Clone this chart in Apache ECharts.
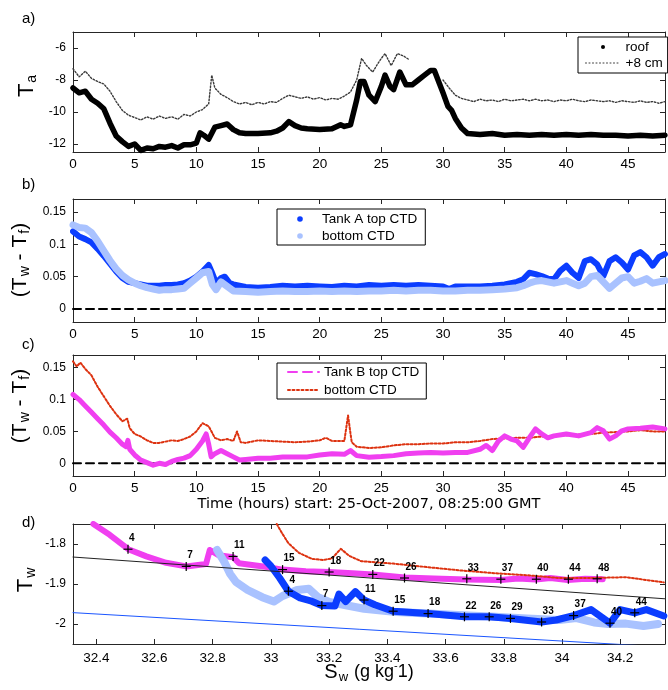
<!DOCTYPE html>
<html>
<head>
<meta charset="utf-8">
<script src="https://cdn.jsdelivr.net/npm/echarts@6/dist/echarts.min.js"></script>
<style>
  html, body { margin: 0; padding: 0; background: #fff; }
  #chart { width: 668px; height: 690px; }
</style>
</head>
<body>
<div id="chart"></div>
<script>
// ---- (a) air temperature, hours since start ----
const roofT = [[0,-8.5],[0.5,-8.8],[1,-8.7],[1.5,-9.2],[2,-9.45],[2.5,-9.8],[3,-10.7],[3.5,-11.5],[4,-11.85],[4.5,-12.15],
  [5,-12.0],[5.5,-12.4],[6,-12.25],[6.5,-12.3],[7,-12.15],[7.5,-12.2],[8,-12.1],[8.5,-12.25],[9,-12.05],[9.5,-12.05],
  [10,-11.95],[10.3,-11.3],[10.6,-11.45],[11,-11.7],[11.5,-10.95],[12,-10.85],[12.5,-10.75],[13,-11.1],[13.5,-11.3],[14,-11.35],
  [15,-11.35],[16,-11.3],[16.5,-11.2],[17,-11.0],[17.5,-10.6],[18,-10.85],[18.5,-11.0],[19,-11.05],[20,-11.1],[21,-11.05],
  [21.7,-10.8],[22,-10.9],[22.5,-10.8],[23,-9.25],[23.3,-8.1],[23.6,-8.1],[24,-8.95],[24.5,-9.35],[25,-8.4],[25.3,-7.7],
  [25.7,-8.4],[26,-8.6],[26.5,-7.5],[27,-8.3],[27.5,-8.3],[28,-8.0],[28.5,-7.7],[29,-7.4],[29.3,-7.4],[29.7,-8.2],
  [30,-8.8],[30.4,-9.65],[30.7,-9.9],[31,-10.4],[31.5,-11.0],[32,-11.35],[33,-11.4],[34,-11.35],[35,-11.45],[36,-11.4],
  [37,-11.45],[38,-11.4],[39,-11.45],[40,-11.4],[41,-11.45],[42,-11.4],[43,-11.45],[44,-11.45],[45,-11.5],[46,-11.45],
  [47,-11.5],[48,-11.45]];
const plus8cmT = [[0,-7.3],[0.5,-7.8],[1,-7.45],[1.5,-7.9],[2,-8.1],[2.5,-8.25],[3,-8.7],[3.5,-9.35],[4,-9.9],[4.5,-10.2],
  [5,-10.35],[5.5,-10.5],[6,-10.3],[6.5,-10.45],[7,-10.25],[7.5,-10.4],[8,-10.3],[8.5,-10.45],[9,-10.15],[9.5,-10.25],
  [10,-10.0],[10.5,-9.85],[11,-9.5],[11.25,-7.7],[11.5,-8.5],[12,-8.9],[12.5,-9.1],[13,-9.35],[13.5,-9.5],[14,-9.4],
  [14.5,-9.55],[15,-9.4],[15.5,-9.5],[16,-9.35],[16.5,-9.4],[17,-9.15],[17.5,-8.95],[18,-9.05],[18.5,-9.15],[19,-9.05],
  [19.5,-9.2],[20,-9.1],[20.5,-9.25],[21,-9.15],[21.5,-9.2],[22,-9.0],[22.5,-8.75],[23,-8.0],[23.4,-6.65],[23.8,-7.1],
  [24.3,-7.5],[24.7,-7.0],[25,-6.65],[25.3,-6.35],[25.8,-7.1],[26.3,-6.35],[26.8,-6.5],[27.3,-6.75],[27.4,null],
  [30,-8.0],[30.5,-8.5],[31,-8.95],[31.5,-9.15],[32,-9.25],[32.5,-9.35],[33,-9.2],[33.5,-9.3],[34,-9.25],[34.5,-9.35],
  [35,-9.2],[35.5,-9.3],[36,-9.25],[36.5,-9.2],[37,-9.3],[37.5,-9.2],[38,-9.3],[38.5,-9.25],[39,-9.35],[39.5,-9.25],
  [40,-9.3],[40.5,-9.2],[41,-9.3],[41.5,-9.35],[42,-9.25],[42.5,-9.3],[43,-9.35],[43.5,-9.3],[44,-9.4],[44.5,-9.3],
  [45,-9.35],[45.5,-9.4],[46,-9.3],[46.5,-9.4],[47,-9.35],[47.5,-9.45],[48,-9.35]];

// ---- (b) Tank A, water minus freezing temperature ----
const tankATop = [[0,0.12],[0.5,0.112],[1,0.108],[1.5,0.103],[2,0.093],[2.5,0.082],[3,0.07],[3.5,0.058],[4,0.048],[4.5,0.042],
  [5,0.04],[5.5,0.038],[6,0.036],[6.5,0.036],[7,0.036],[7.5,0.037],[8,0.037],[8.5,0.038],[9,0.04],[9.5,0.044],
  [10,0.05],[10.5,0.058],[11,0.068],[11.3,0.055],[11.6,0.04],[12,0.048],[12.3,0.05],[12.7,0.04],[13,0.038],[13.5,0.036],
  [14,0.034],[15,0.033],[16,0.034],[17,0.036],[18,0.035],[19,0.036],[20,0.035],[21,0.034],[22,0.036],[23,0.035],
  [24,0.037],[25,0.036],[26,0.037],[27,0.036],[28,0.037],[29,0.036],[30,0.035],[30.5,0.031],[31,0.035],[32,0.035],
  [33,0.035],[34,0.036],[35,0.038],[35.5,0.04],[36,0.042],[36.5,0.046],[37,0.056],[37.5,0.054],[38,0.051],[38.5,0.047],
  [39,0.046],[39.5,0.059],[40,0.067],[40.5,0.056],[41,0.048],[41.5,0.074],[42,0.077],[42.5,0.069],[43,0.051],[43.5,0.074],
  [44,0.08],[44.5,0.072],[45,0.061],[45.5,0.083],[46,0.088],[46.5,0.08],[47,0.067],[47.5,0.08],[48,0.085]];
const tankABottom = [[0,0.13],[0.5,0.126],[1,0.125],[1.5,0.118],[2,0.105],[2.5,0.09],[3,0.075],[3.5,0.062],[4,0.052],[4.5,0.045],
  [5,0.04],[5.5,0.036],[6,0.033],[6.5,0.031],[7,0.029],[7.5,0.03],[8,0.03],[8.5,0.031],[9,0.032],[9.5,0.04],
  [10,0.048],[10.5,0.056],[11,0.058],[11.3,0.038],[11.6,0.03],[12,0.042],[12.5,0.035],[13,0.028],[14,0.027],[15,0.026],
  [16,0.027],[17,0.028],[18,0.027],[19,0.027],[20,0.028],[21,0.027],[22,0.028],[23,0.027],[24,0.028],[25,0.028],
  [26,0.029],[27,0.028],[28,0.029],[29,0.029],[30,0.028],[31,0.028],[32,0.029],[33,0.029],[34,0.03],[35,0.031],
  [36,0.033],[36.5,0.036],[37,0.04],[37.5,0.043],[38,0.044],[38.5,0.042],[39,0.04],[39.5,0.042],[40,0.044],[40.5,0.04],
  [41,0.036],[41.5,0.04],[42,0.05],[42.5,0.052],[43,0.042],[43.5,0.032],[44,0.04],[44.5,0.048],[45,0.05],[45.5,0.04],
  [46,0.043],[46.5,0.047],[47,0.04],[47.5,0.042],[48,0.044]];

// ---- (c) Tank B ----
const tankBTop = [[0,0.108],[0.5,0.1],[1,0.09],[1.5,0.08],[2,0.07],[2.5,0.06],[3,0.049],[3.5,0.04],[4,0.03],[4.3,0.026],
  [4.45,0.036],[4.6,0.022],[5,0.013],[5.5,0.005],[6,0.001],[6.5,-0.003],[7,0.0],[7.5,-0.002],[8,0.003],[8.5,0.006],
  [9,0.008],[9.5,0.012],[10,0.022],[10.5,0.035],[10.8,0.046],[11,0.03],[11.2,0.01],[11.5,0.015],[12,0.02],[12.5,0.015],
  [13,0.01],[13.5,0.005],[14,0.006],[15,0.008],[16,0.008],[17,0.01],[18,0.01],[19,0.01],[20,0.013],[21,0.015],
  [22,0.014],[22.5,0.02],[23,0.012],[24,0.0095],[25,0.0105],[26,0.012],[27,0.015],[28,0.016],[29,0.017],[30,0.016],
  [31,0.017],[32,0.017],[33,0.022],[33.5,0.028],[34,0.02],[34.5,0.035],[35,0.043],[35.5,0.038],[36,0.035],[36.5,0.025],
  [37,0.04],[37.5,0.054],[38,0.046],[38.5,0.04],[39,0.043],[40,0.046],[41,0.043],[42,0.048],[42.5,0.056],[43,0.051],
  [43.5,0.038],[44,0.043],[44.5,0.051],[45,0.054],[46,0.055],[47,0.057],[48,0.054]];
const tankBBottom = [[0,0.16],[0.3,0.152],[0.6,0.158],[1,0.148],[1.5,0.138],[2,0.12],[2.5,0.105],[3,0.09],[3.5,0.077],[4,0.066],
  [4.4,0.07],[4.6,0.055],[5,0.046],[5.5,0.042],[6,0.036],[6.5,0.032],[7,0.032],[7.5,0.034],[8,0.036],[8.5,0.035],
  [9,0.038],[9.5,0.042],[10,0.05],[10.5,0.063],[11,0.058],[11.5,0.04],[12,0.036],[12.5,0.038],[13,0.035],[13.3,0.05],
  [13.6,0.033],[14,0.032],[15,0.036],[16,0.035],[17,0.034],[18,0.033],[19,0.034],[20,0.036],[20.5,0.04],[21,0.035],
  [22,0.035],[22.3,0.075],[22.6,0.033],[23,0.026],[24,0.024],[25,0.025],[26,0.028],[27,0.03],[28,0.03],[29,0.031],
  [30,0.031],[31,0.033],[32,0.033],[33,0.035],[34,0.038],[35,0.039],[36,0.04],[37,0.04],[38,0.042],[39,0.043],
  [40,0.044],[41,0.045],[42,0.046],[43,0.048],[44,0.049],[45,0.05],[46,0.052],[47,0.05],[48,0.05]];
const zeroRef = [[0,0],[48,0]];

// ---- (d) temperature–salinity tracks ----
const tsBTop = [[32.39,-1.75],[32.446,-1.777],[32.51,-1.813],[32.572,-1.831],[32.64,-1.847],[32.709,-1.856],[32.777,-1.85],
  [32.79,-1.815],[32.82,-1.828],[32.87,-1.833],[32.89,-1.848],[32.98,-1.857],[33.04,-1.864],[33.12,-1.868],[33.2,-1.87],
  [33.28,-1.873],[33.35,-1.876],[33.46,-1.884],[33.56,-1.886],[33.67,-1.889],[33.79,-1.89],[33.85,-1.886],[33.91,-1.889],
  [33.96,-1.885],[34.02,-1.89],[34.08,-1.887],[34.14,-1.888]];
const tsBBottom = [[33.02,-1.75],[33.04,-1.775],[33.06,-1.798],[33.096,-1.822],[33.14,-1.837],[33.18,-1.84],[33.21,-1.836],
  [33.24,-1.812],[33.27,-1.83],[33.31,-1.843],[33.42,-1.849],[33.54,-1.858],[33.65,-1.866],[33.77,-1.873],[33.88,-1.878],
  [33.99,-1.885],[34.1,-1.885],[34.22,-1.883],[34.35,-1.896]];
const tsABottom = [[32.815,-1.815],[32.84,-1.845],[32.86,-1.875],[32.88,-1.895],[32.92,-1.915],[32.97,-1.933],[33.01,-1.944],
  [33.04,-1.93],[33.09,-1.915],[33.13,-1.912],[33.16,-1.932],[33.2,-1.945],[33.32,-1.962],[33.43,-1.97],[33.54,-1.974],
  [33.66,-1.978],[33.77,-1.982],[33.88,-1.986],[33.99,-1.99],[34.05,-1.985],[34.11,-1.996],[34.16,-2.0],[34.22,-1.999],
  [34.28,-2.005],[34.33,-2.0]];
const tsATop = [[32.98,-1.84],[33.0,-1.855],[33.03,-1.885],[33.06,-1.918],[33.1,-1.935],[33.14,-1.943],[33.175,-1.954],
  [33.22,-1.955],[33.234,-1.925],[33.257,-1.944],[33.29,-1.919],[33.32,-1.94],[33.357,-1.952],[33.42,-1.968],[33.54,-1.974],
  [33.665,-1.982],[33.75,-1.982],[33.823,-1.986],[33.93,-1.995],[33.98,-1.99],[34.04,-1.979],[34.1,-1.964],[34.165,-1.998],
  [34.2,-1.964],[34.25,-1.972],[34.29,-1.964],[34.35,-1.98]];
const freezeBlack = [[32.32,-1.8326],[34.354,-1.937]];
const freezeBlue = [[32.32,-1.9716],[34.354,-2.0576]];
// elapsed-hour marks along each track: [S, T, hour]
const hourMarksB = [[32.509,-1.813,'4'],[32.709,-1.856,'7'],[32.87,-1.831,'11'],[33.04,-1.864,'15'],[33.2,-1.87,'18'],
  [33.35,-1.876,'22'],[33.459,-1.885,'26'],[33.673,-1.887,'33'],[33.79,-1.888,'37'],[33.912,-1.888,'40'],
  [34.022,-1.888,'44'],[34.121,-1.887,'48']];
const hourMarksA = [[33.06,-1.918,'4'],[33.175,-1.954,'7'],[33.32,-1.94,'11'],[33.42,-1.968,'15'],[33.54,-1.974,'18'],
  [33.665,-1.982,'22'],[33.75,-1.982,'26'],[33.823,-1.986,'29'],[33.93,-1.995,'33'],[34.04,-1.979,'37'],
  [34.165,-1.998,'40'],[34.25,-1.972,'44']];

const FONT = 'Liberation Sans, Arial, sans-serif';
const FRAME = '#262626';
const C_ROOF = '#000000', C_8CM = '#3a3a3a';
const C_ATOP = '#0b3dff', C_ABOT = '#a9c2ff';
const C_BTOP = '#f03ff0', C_BBOT = '#dd3210';

// blank out any tick that is not on a whole step (the axis end values)
function stepFormatter(step) {
  return function (v) {
    const k = v / step;
    if (Math.abs(k - Math.round(k)) > 1e-6) return '';
    return String(+v.toFixed(4));
  };
}
function xAxisPair(grid, min, max, step, labelMargin) {
  const base = {
    type: 'value', gridIndex: grid, min: min, max: max, minInterval: step, maxInterval: step,
    axisLine: { show: true, onZero: false, lineStyle: { color: FRAME, width: 1 } },
    axisTick: { show: true, inside: true, length: 5, lineStyle: { color: FRAME } },
    splitLine: { show: false }
  };
  return [
    Object.assign({}, base, { position: 'bottom',
      axisLabel: { show: true, fontFamily: FONT, fontSize: 13.5, color: '#000', margin: labelMargin,
        showMinLabel: true, showMaxLabel: true, hideOverlap: false, formatter: stepFormatter(step) } }),
    Object.assign({}, base, { position: 'top', axisLabel: { show: false } })
  ];
}
function yAxisPair(grid, min, max, step) {
  const base = {
    type: 'value', gridIndex: grid, min: min, max: max, minInterval: step, maxInterval: step,
    axisLine: { show: true, onZero: false, lineStyle: { color: FRAME, width: 1 } },
    axisTick: { show: true, inside: true, length: 5, lineStyle: { color: FRAME } },
    splitLine: { show: false }
  };
  return [
    Object.assign({}, base, { position: 'left',
      axisLabel: { show: true, fontFamily: FONT, fontSize: 12, color: '#000', margin: 7,
        showMinLabel: true, showMaxLabel: true, formatter: stepFormatter(step) } }),
    Object.assign({}, base, { position: 'right', axisLabel: { show: false } })
  ];
}

const xa = xAxisPair(0, 0, 48, 5, 5), xb = xAxisPair(1, 0, 48, 5, 5),
      xc = xAxisPair(2, 0, 48, 5, 5), xd = xAxisPair(3, 32.32, 34.354, 0.2, 7);
const ya = yAxisPair(0, -12.5, -5, 2), yb = yAxisPair(1, -0.02, 0.17, 0.05),
      yc = yAxisPair(2, -0.02, 0.17, 0.05), yd = yAxisPair(3, -2.05, -1.75, 0.1);

function lineSeries(name, data, xi, yi, color, width, type) {
  return {
    type: 'line', name: name, data: data, xAxisIndex: xi, yAxisIndex: yi,
    symbol: 'none', connectNulls: false, animation: false, silent: true,
    itemStyle: { color: color },
    lineStyle: { color: color, width: width, type: type || 'solid', cap: 'round', join: 'round' }
  };
}
// "+" mark with its hour number, placed through the T–S axes
function markSeries(marks) {
  return {
    type: 'custom', xAxisIndex: 3, yAxisIndex: 3, silent: true, animation: false, z: 10,
    data: marks.map(m => [m[0], m[1]]),
    renderItem: function (params, api) {
      const p = api.coord([api.value(0), api.value(1)]);
      const h = 4.5;
      return {
        type: 'group',
        children: [
          { type: 'line', shape: { x1: p[0] - h, y1: p[1], x2: p[0] + h, y2: p[1] }, style: { stroke: '#000', lineWidth: 1.2 } },
          { type: 'line', shape: { x1: p[0], y1: p[1] - h, x2: p[0], y2: p[1] + h }, style: { stroke: '#000', lineWidth: 1.2 } },
          { type: 'text', x: p[0] + 1, y: p[1] - 6,
            style: { text: marks[params.dataIndex][2], font: 'bold 10px ' + FONT, fill: '#000',
              align: 'left', verticalAlign: 'bottom' } }
        ]
      };
    }
  };
}

const legendText = { fontFamily: FONT, fontSize: 13.5, color: '#000' };
const legendBase = {
  orient: 'vertical', selectedMode: false, backgroundColor: '#fff', borderColor: '#000', borderWidth: 1,
  borderRadius: 0, textStyle: legendText,
  formatter: n => n.replace(/^Tank [AB] bottom/, 'bottom')
};
const noSymbol = { color: 'rgba(0,0,0,0)', borderWidth: 0 };
const noLine = { opacity: 0, width: 0 };

const subRich = (main, sub) => ({
  m: { fontSize: main, fontFamily: FONT, fill: '#000' },
  s: { fontSize: sub, fontFamily: FONT, fill: '#000', verticalAlign: 'bottom', padding: [Math.round(sub * 0.7), 0, 0, 1] }
});

const option = {
  animation: false,
  backgroundColor: '#fff',
  grid: [
    { left: 73, top: 32, width: 594, height: 120 },
    { left: 73, top: 199, width: 594, height: 123 },
    { left: 73, top: 355, width: 594, height: 121 },
    { left: 73, top: 524, width: 594, height: 120 }
  ],
  xAxis: [xa[0], xb[0], xc[0], xd[0], xa[1], xb[1], xc[1], xd[1]],
  yAxis: [ya[0], yb[0], yc[0], yd[0], ya[1], yb[1], yc[1], yd[1]],
  legend: [
    Object.assign({}, legendBase, { left: 578, top: 37, padding: [3, 5, 3, 7], itemGap: 2, itemWidth: 35, itemHeight: 5,
      data: [{ name: 'roof', lineStyle: noLine },
             { name: '+8 cm', itemStyle: noSymbol, lineStyle: { width: 1, type: [1, 2.5] } }] }),
    Object.assign({}, legendBase, { left: 277, top: 209, padding: [3, 8, 2, 6], itemGap: 3, itemWidth: 34, itemHeight: 7,
      data: [{ name: 'Tank A top CTD', lineStyle: noLine }, { name: 'Tank A bottom CTD', lineStyle: noLine }] }),
    Object.assign({}, legendBase, { left: 277, top: 363, padding: [2, 7, 2, 10], itemGap: 4, itemWidth: 31, itemHeight: 5,
      data: [{ name: 'Tank B top CTD', itemStyle: noSymbol, lineStyle: { type: [9, 6], width: 2 } },
             { name: 'Tank B bottom CTD', itemStyle: noSymbol, lineStyle: { type: [2, 2.5], width: 2 } }] })
  ],
  series: [
    // (a)
    lineSeries('+8 cm', plus8cmT, 0, 0, C_8CM, 1.4, [1.5, 1.8]),
    lineSeries('roof', roofT, 0, 0, C_ROOF, 5.5),
    // (b)
    lineSeries('zero b', zeroRef, 1, 1, '#000', 2, [8, 5]),
    lineSeries('Tank A top CTD', tankATop, 1, 1, C_ATOP, 6),
    lineSeries('Tank A bottom CTD', tankABottom, 1, 1, C_ABOT, 7),
    // (c)
    lineSeries('zero c', zeroRef, 2, 2, '#000', 2, [8, 5]),
    lineSeries('Tank B bottom CTD', tankBBottom, 2, 2, C_BBOT, 2, [2, 2]),
    lineSeries('Tank B top CTD', tankBTop, 2, 2, C_BTOP, 5),
    // (d)
    lineSeries('B top T-S', tsBTop, 3, 3, C_BTOP, 6),
    lineSeries('B bottom T-S', tsBBottom, 3, 3, C_BBOT, 2, [2, 2]),
    lineSeries('A bottom T-S', tsABottom, 3, 3, C_ABOT, 8),
    lineSeries('A top T-S', tsATop, 3, 3, C_ATOP, 7),
    lineSeries('freezing 1', freezeBlack, 3, 3, '#222', 1),
    lineSeries('freezing 2', freezeBlue, 3, 3, '#1a55ff', 1),
    markSeries(hourMarksB),
    markSeries(hourMarksA)
  ],
  graphic: [
    { type: 'text', x: 22, y: 19, style: { text: 'a)', font: '15px ' + FONT, fill: '#000', verticalAlign: 'middle' } },
    { type: 'text', x: 22, y: 185, style: { text: 'b)', font: '15px ' + FONT, fill: '#000', verticalAlign: 'middle' } },
    { type: 'text', x: 22, y: 345, style: { text: 'c)', font: '15px ' + FONT, fill: '#000', verticalAlign: 'middle' } },
    { type: 'text', x: 22, y: 523, style: { text: 'd)', font: '15px ' + FONT, fill: '#000', verticalAlign: 'middle' } },
    { type: 'text', x: 27, y: 86, rotation: Math.PI / 2,
      style: { text: '{m|T}{s|a}', align: 'center', verticalAlign: 'middle', rich: subRich(22, 14) } },
    { type: 'text', x: 20, y: 260, rotation: Math.PI / 2,
      style: { text: '{m|(T}{s|w}{m| - T}{s|f}{m|)}', align: 'center', verticalAlign: 'middle', rich: subRich(21, 14) } },
    { type: 'text', x: 20, y: 406, rotation: Math.PI / 2,
      style: { text: '{m|(T}{s|w}{m| - T}{s|f}{m|)}', align: 'center', verticalAlign: 'middle', rich: subRich(21, 14) } },
    { type: 'text', x: 26, y: 580, rotation: Math.PI / 2,
      style: { text: '{m|T}{s|w}', align: 'center', verticalAlign: 'middle', rich: subRich(22, 14) } },
    { type: 'text', x: 369, y: 504,
      style: { text: 'Time (hours) start: 25-Oct-2007, 08:25:00 GMT', font: '14.5px DejaVu Sans, sans-serif',
        fill: '#000', align: 'center', verticalAlign: 'middle' } },
    { type: 'text', x: 369, y: 672,
      style: { text: '{S|S}{s|w}{m| (g kg}{p|-}{m|1)}', align: 'center', verticalAlign: 'middle',
        rich: {
          S: { fontSize: 20, fontFamily: FONT, fill: '#000' },
          s: { fontSize: 13, fontFamily: FONT, fill: '#000', verticalAlign: 'bottom', padding: [10, 1, 0, 1] },
          m: { fontSize: 18, fontFamily: FONT, fill: '#000' },
          p: { fontSize: 11, fontFamily: FONT, fill: '#000', verticalAlign: 'top' }
        } } }
  ]
};

const chart = echarts.init(document.getElementById('chart'), null, { renderer: 'canvas', width: 668, height: 690 });
chart.setOption(option);
</script>
</body>
</html>
